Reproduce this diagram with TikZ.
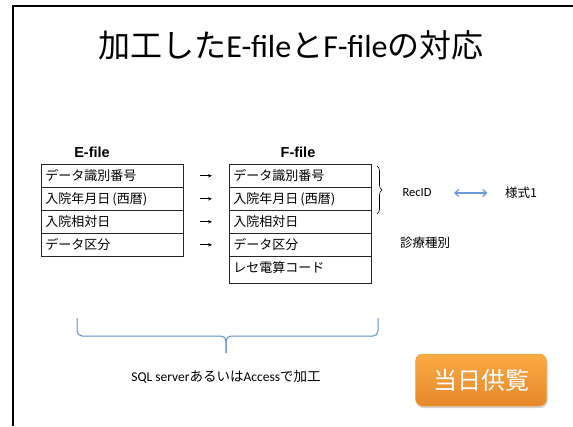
\documentclass[tikz,border=0pt]{standalone}
\usepackage{fontspec}
\setmainfont{Carlito}
\newfontfamily\jp{Noto Sans CJK JP}
\newfontfamily\hd{Liberation Sans}
\usetikzlibrary{decorations.pathreplacing,shadows,arrows.meta}
\definecolor{bracebl}{HTML}{5B8FC8}
\definecolor{arrbl}{HTML}{6A9BD8}
\definecolor{orgtop}{HTML}{FBAA44}
\definecolor{orgbot}{HTML}{E6882A}
\definecolor{orgline}{HTML}{F2A24A}
\begin{document}
\begin{tikzpicture}[x=1pt,y=-1pt,
  cell/.style={draw=black!85, line width=0.6pt, minimum height=23pt, text width=134pt,
    inner xsep=4pt, inner ysep=0pt, align=left, anchor=north west,
    font=\jp\fontsize{13}{15}\selectfont, text height=11pt, text depth=2pt},
  hdr/.style={font=\hd\bfseries\fontsize{14.5}{16}\selectfont},
  arr/.style={-{Stealth[length=4pt,width=3.5pt]}, line width=0.7pt, shorten <=16pt, shorten >=17pt},
  dbl/.style={{Straight Barb[length=4pt,width=7pt]}-{Straight Barb[length=4pt,width=7pt]}, arrbl, line width=1.2pt,
    shorten <=19pt, shorten >=14pt},
  lbl/.style={font=\jp\fontsize{12.5}{14}\selectfont},
  btn/.style={rounded corners=7pt, minimum width=131pt, minimum height=52pt,
    top color=orgtop, bottom color=orgbot, draw=orgline, line width=0.5pt,
    drop shadow={opacity=0.35, shadow xshift=1pt, shadow yshift=-2pt},
    text=white, font=\jp\fontsize{24}{26}\selectfont}
]
\useasboundingbox (0,0) rectangle (573,426);
% frame
\draw[line width=2pt] (13,426) -- (13,6) -- (573,6);
% title
\node (title) at (291,45) {\fontsize{32}{36}\selectfont{\jp 加工した}E-file{\jp と}F-file{\jp の対応}};
% headers
\node[hdr] (eh) at (92,152) {E-file};
\node[hdr] (fh) at (298,152) {F-file};
% E-file rows
\node[cell] (e1) at (41,164) {データ識別番号};
\node[cell] (e2) at (41,187) {入院年月日\,(西暦)};
\node[cell] (e3) at (41,210) {入院相対日};
\node[cell] (e4) at (41,233) {データ区分};
% F-file rows
\node[cell] (f1) at (229,164) {データ識別番号};
\node[cell] (f2) at (229,187) {入院年月日\,(西暦)};
\node[cell] (f3) at (229,210) {入院相対日};
\node[cell] (f4) at (229,233) {データ区分};
\node[cell, minimum height=27pt, text depth=6pt] (f5) at (229,256) {レセ電算コード};
% arrows
\draw[arr] (e1.east) -- (f1.west);
\draw[arr] (e2.east) -- (f2.west);
\draw[arr] (e3.east) -- (f3.west);
\draw[arr] (e4.east) -- (f4.west);
% right brace
\draw[line width=0.6pt, decorate, decoration={brace, amplitude=5pt}] (377,166) -- (377,214);
% RecID etc
\node (rec) at (417,193) {\fontsize{12.5}{14}\selectfont RecID};
\node[lbl] (yo) at (521,193) {様式1};
\draw[dbl] (rec) -- (yo);
\node[lbl] (shin) at (425,243) {診療種別};
% bottom brace
\draw[bracebl, line width=1pt, rounded corners=5pt] (77,318) -- (77,336) -- (226,336) -- (226,353);
\draw[bracebl, line width=1pt, rounded corners=5pt] (378,318) -- (378,336) -- (226,336) -- (226,353);
\node (sql) at (226,377) {\fontsize{13.5}{15}\selectfont SQL server{\jp あるいは}Access{\jp で加工}};
% button
\node[btn] (btn) at (481,380) {当日供覧};
\end{tikzpicture}
\end{document}
